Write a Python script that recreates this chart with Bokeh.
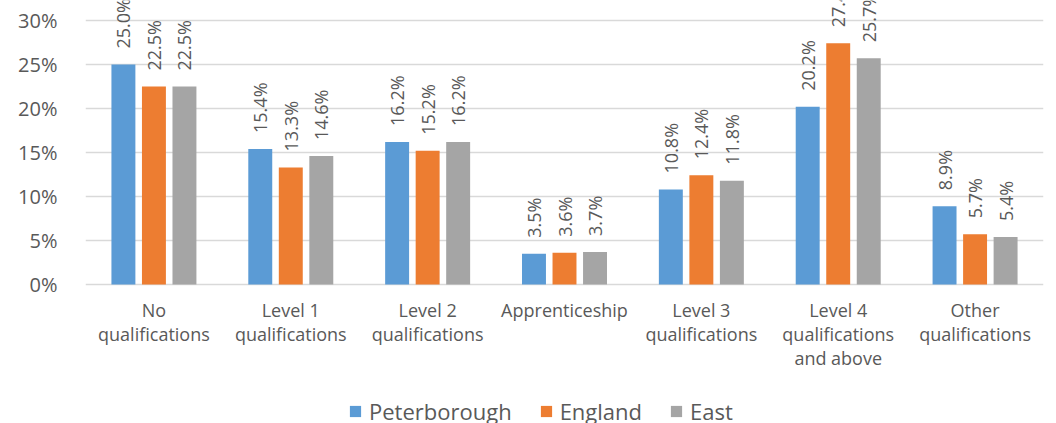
import math
from bokeh.plotting import figure
from bokeh.models import ColumnDataSource, FactorRange, Range1d, FixedTicker, Legend, LegendItem, CustomJSTickFormatter
from bokeh.transform import dodge
from bokeh.core.properties import value
from bokeh.embed import file_html
from bokeh.resources import INLINE

categories = ["No\nqualifications", "Level 1\nqualifications", "Level 2\nqualifications",
              "Apprenticeship", "Level 3\nqualifications", "Level 4\nqualifications\nand above",
              "Other\nqualifications"]
series_names = ["Peterborough", "England", "East"]
peterborough = [25.0, 15.4, 16.2, 3.5, 10.8, 20.2, 8.9]
england = [22.5, 13.3, 15.2, 3.6, 12.4, 27.4, 5.7]
east = [22.5, 14.6, 16.2, 3.7, 11.8, 25.7, 5.4]
y_ticks = [0, 5, 10, 15, 20, 25, 30]

colors = ["#5B9BD5", "#ED7D31", "#A5A5A5"]
FONT = "Open Sans"
TXT = "#595959"

src = ColumnDataSource(dict(
    cat=categories,
    s0=peterborough, s1=england, s2=east,
    l0=[f"{v:.1f}%" for v in peterborough],
    l1=[f"{v:.1f}%" for v in england],
    l2=[f"{v:.1f}%" for v in east],
    zero=[0] * len(categories),
))

W, H = 1048, 423
p = figure(width=W, height=H, output_backend="svg", toolbar_location=None,
           x_range=FactorRange(*categories, range_padding=0),
           y_range=Range1d(-(H - 284) / 8.8, 32.27),
           min_border_left=85, min_border_right=W - 1043, min_border_top=0, min_border_bottom=0)
p.outline_line_color = None
p.background_fill_color = "white"
p.border_fill_color = "white"

offsets = [-0.223, 0.0, 0.223]
renderers = []
for i in range(3):
    r = p.vbar(x=dodge("cat", offsets[i], range=p.x_range), top=f"s{i}", width=0.175,
               source=src, fill_color=colors[i], line_color=None)
    renderers.append(r)
    p.text(x=dodge("cat", offsets[i], range=p.x_range), y=f"s{i}", text=f"l{i}",
           source=src, angle=math.pi / 2, y_offset=-16,
           text_align="left", text_baseline="middle",
           text_font=value(FONT), text_font_size="18px", text_color=TXT)

# category labels under the bars (x axis)
p.text(x="cat", y="zero", text="cat", source=src, y_offset=14,
       text_align="center", text_baseline="top", text_line_height=1.0,
       text_font=value(FONT), text_font_size="18px", text_color=TXT)
p.xaxis.visible = False

# y axis
p.yaxis.ticker = FixedTicker(ticks=y_ticks)
p.yaxis.formatter = CustomJSTickFormatter(code="return tick + '%';")
p.yaxis.axis_line_color = None
p.yaxis.major_tick_line_color = None
p.yaxis.minor_tick_line_color = None
p.yaxis.major_label_text_font = FONT
p.yaxis.major_label_text_font_size = "20px"
p.yaxis.major_label_text_color = TXT
p.yaxis.major_label_standoff = 22

p.xgrid.grid_line_color = None
p.ygrid.grid_line_color = "#D9D9D9"
p.ygrid.grid_line_width = 1.3
p.ygrid.ticker = FixedTicker(ticks=y_ticks)

legend = Legend(items=[LegendItem(label=series_names[i], renderers=[renderers[i]]) for i in range(3)],
                location=(263, -3), orientation="horizontal",
                glyph_width=14, glyph_height=14, label_standoff=7, spacing=27,
                padding=0, margin=0, border_line_color=None, background_fill_alpha=0,
                label_text_font=FONT, label_text_font_size="22px", label_text_color=TXT)
p.add_layout(legend)

open("out.html", "w").write(file_html(p, INLINE))
